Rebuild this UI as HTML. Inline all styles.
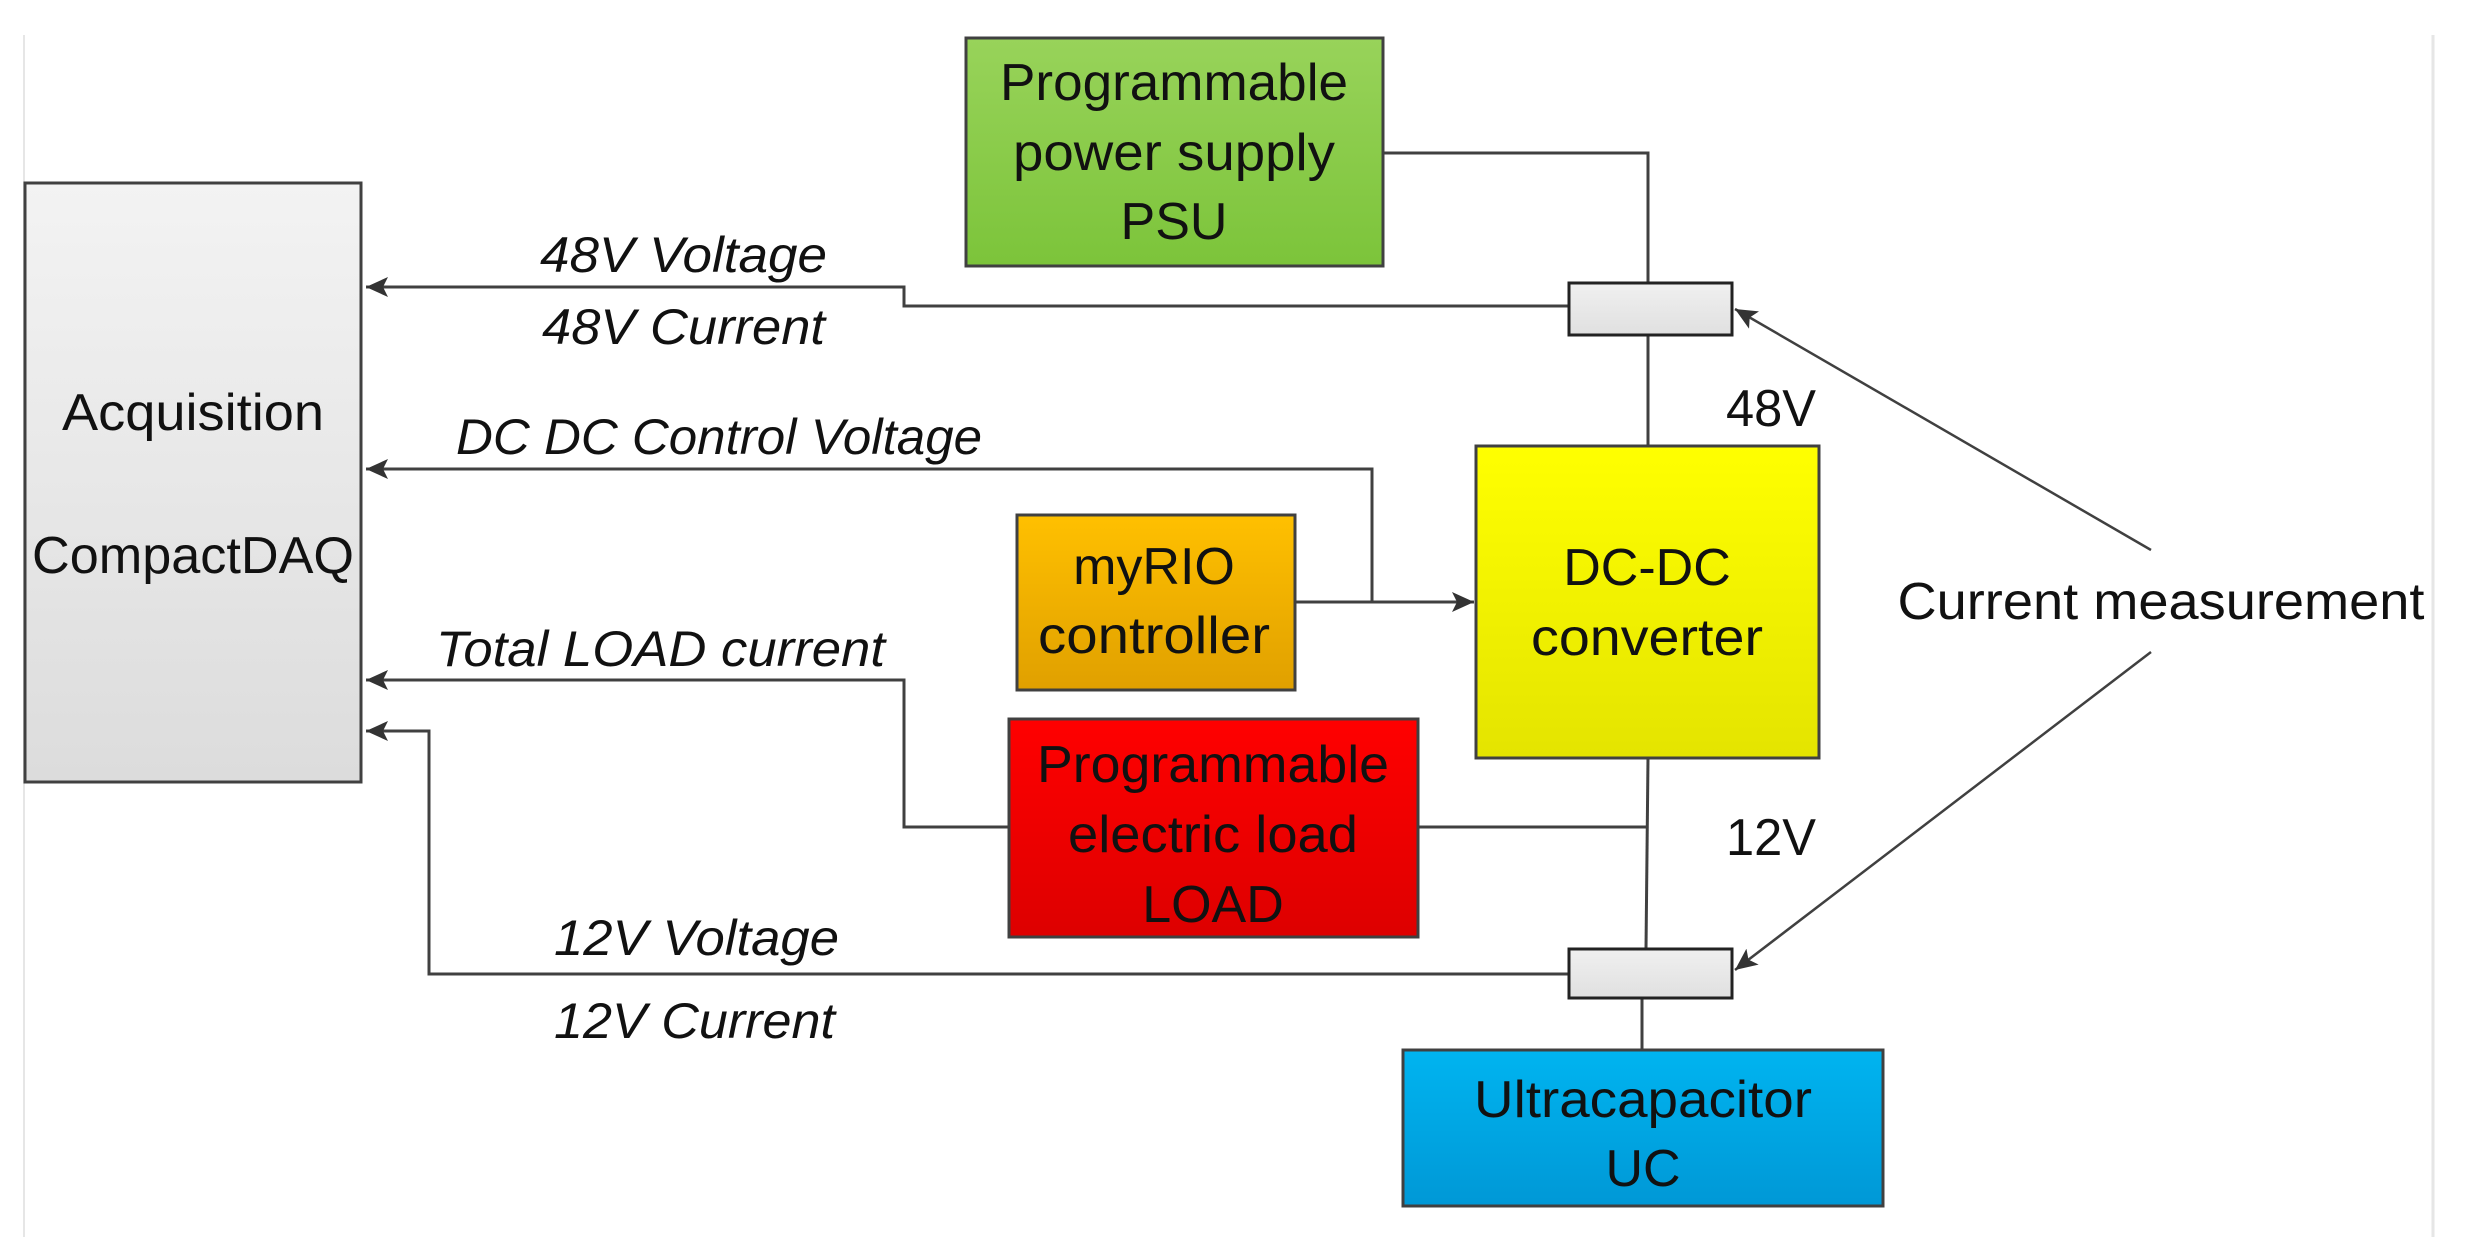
<!DOCTYPE html>
<html><head><meta charset="utf-8"><style>html,body{margin:0;padding:0;background:#fff}svg{display:block}</style></head>
<body>
<svg width="2465" height="1237" viewBox="0 0 2465 1237" xmlns="http://www.w3.org/2000/svg" font-family="Liberation Sans, sans-serif">
<defs>
<linearGradient id="gDaq" x1="0" y1="0" x2="0" y2="1"><stop offset="0" stop-color="#f3f3f3"/><stop offset="1" stop-color="#dcdcdc"/></linearGradient>
<linearGradient id="gGreen" x1="0" y1="0" x2="0" y2="1"><stop offset="0" stop-color="#98d35a"/><stop offset="1" stop-color="#7cc43a"/></linearGradient>
<linearGradient id="gOr" x1="0" y1="0" x2="0" y2="1"><stop offset="0" stop-color="#ffc000"/><stop offset="1" stop-color="#e0a000"/></linearGradient>
<linearGradient id="gRed" x1="0" y1="0" x2="0" y2="1"><stop offset="0" stop-color="#ff0000"/><stop offset="1" stop-color="#dd0000"/></linearGradient>
<linearGradient id="gY" x1="0" y1="0" x2="0" y2="1"><stop offset="0" stop-color="#ffff00"/><stop offset="1" stop-color="#e4e400"/></linearGradient>
<linearGradient id="gB" x1="0" y1="0" x2="0" y2="1"><stop offset="0" stop-color="#00b4f0"/><stop offset="1" stop-color="#0098d6"/></linearGradient>
<linearGradient id="gS" x1="0" y1="0" x2="0" y2="1"><stop offset="0" stop-color="#f0f0f0"/><stop offset="1" stop-color="#e0e0e0"/></linearGradient>
<marker id="ar2" markerWidth="24" markerHeight="20" refX="22" refY="10" orient="auto" markerUnits="userSpaceOnUse"><path d="M0,0 L22,10 L0,20 L5,10 Z" fill="#333"/></marker>
</defs>
<line x1="24" y1="35" x2="24" y2="1237" stroke="#e6e6e6" stroke-width="2"/>
<line x1="2433" y1="35" x2="2433" y2="1237" stroke="#e6e6e6" stroke-width="3"/>

<g stroke="#404040" stroke-width="3" fill="none">
<polyline points="1568,306 904,306 904,287 366,287" marker-end="url(#ar2)"/>
<polyline points="1372,602 1372,469 366,469" marker-end="url(#ar2)"/>
<polyline points="1009,827 904,827 904,680 366,680" marker-end="url(#ar2)"/>
<polyline points="1568,974 429,974 429,731 366,731" marker-end="url(#ar2)"/>
<polyline points="1383,153 1648,153 1648,283"/>
<line x1="1648" y1="335" x2="1648" y2="446"/>
<line x1="1295" y1="602" x2="1474" y2="602" marker-end="url(#ar2)"/>
<line x1="1418" y1="827" x2="1646" y2="827"/>
<line x1="1648" y1="758" x2="1646" y2="949"/>
<line x1="1642" y1="998" x2="1642" y2="1050"/>
<line x1="2151" y1="550" x2="1735" y2="309" stroke-width="2.5" marker-end="url(#ar2)"/>
<line x1="2151" y1="652" x2="1735" y2="970" stroke-width="2.5" marker-end="url(#ar2)"/>
</g>

<rect x="25" y="183" width="336" height="599" fill="url(#gDaq)" stroke="#404040" stroke-width="3"/>
<rect x="966" y="38" width="417" height="228" fill="url(#gGreen)" stroke="#404040" stroke-width="3"/>
<rect x="1017" y="515" width="278" height="175" fill="url(#gOr)" stroke="#404040" stroke-width="3"/>
<rect x="1009" y="719" width="409" height="218" fill="url(#gRed)" stroke="#404040" stroke-width="3"/>
<rect x="1476" y="446" width="343" height="312" fill="url(#gY)" stroke="#404040" stroke-width="3"/>
<rect x="1403" y="1050" width="480" height="156" fill="url(#gB)" stroke="#404040" stroke-width="3"/>
<rect x="1569" y="283" width="163" height="52" fill="url(#gS)" stroke="#222" stroke-width="3"/>
<rect x="1569" y="949" width="163" height="49" fill="url(#gS)" stroke="#222" stroke-width="3"/>

<g fill="#111" font-size="52" text-anchor="middle">
<text x="193" y="430" textLength="262" lengthAdjust="spacingAndGlyphs">Acquisition</text>
<text x="193" y="573" textLength="322" lengthAdjust="spacingAndGlyphs">CompactDAQ</text>
<text x="1174" y="100" textLength="348" lengthAdjust="spacingAndGlyphs">Programmable</text>
<text x="1174" y="170" textLength="322" lengthAdjust="spacingAndGlyphs">power supply</text>
<text x="1174" y="239">PSU</text>
<text x="1154" y="584">myRIO</text>
<text x="1154" y="653" textLength="232" lengthAdjust="spacingAndGlyphs">controller</text>
<text x="1213" y="782" textLength="352" lengthAdjust="spacingAndGlyphs">Programmable</text>
<text x="1213" y="852" textLength="290" lengthAdjust="spacingAndGlyphs">electric load</text>
<text x="1213" y="922">LOAD</text>
<text x="1647" y="585">DC-DC</text>
<text x="1647" y="655" textLength="232" lengthAdjust="spacingAndGlyphs">converter</text>
<text x="1643" y="1117" textLength="338" lengthAdjust="spacingAndGlyphs">Ultracapacitor</text>
<text x="1643" y="1186">UC</text>
<text x="1771" y="426" textLength="90" lengthAdjust="spacingAndGlyphs">48V</text>
<text x="1771" y="855" textLength="90" lengthAdjust="spacingAndGlyphs">12V</text>
<text x="2161" y="619" textLength="527" lengthAdjust="spacingAndGlyphs">Current measurement</text>
</g>
<g fill="#111" font-size="50" font-style="italic">
<text x="540" y="272" textLength="287" lengthAdjust="spacingAndGlyphs">48V Voltage</text>
<text x="542" y="344" textLength="283" lengthAdjust="spacingAndGlyphs">48V Current</text>
<text x="456" y="454" textLength="526" lengthAdjust="spacingAndGlyphs">DC DC Control Voltage</text>
<text x="436" y="666" textLength="449" lengthAdjust="spacingAndGlyphs">Total LOAD current</text>
<text x="554" y="955" textLength="285" lengthAdjust="spacingAndGlyphs">12V Voltage</text>
<text x="554" y="1038" textLength="281" lengthAdjust="spacingAndGlyphs">12V Current</text>
</g>
</svg>
</body></html>
